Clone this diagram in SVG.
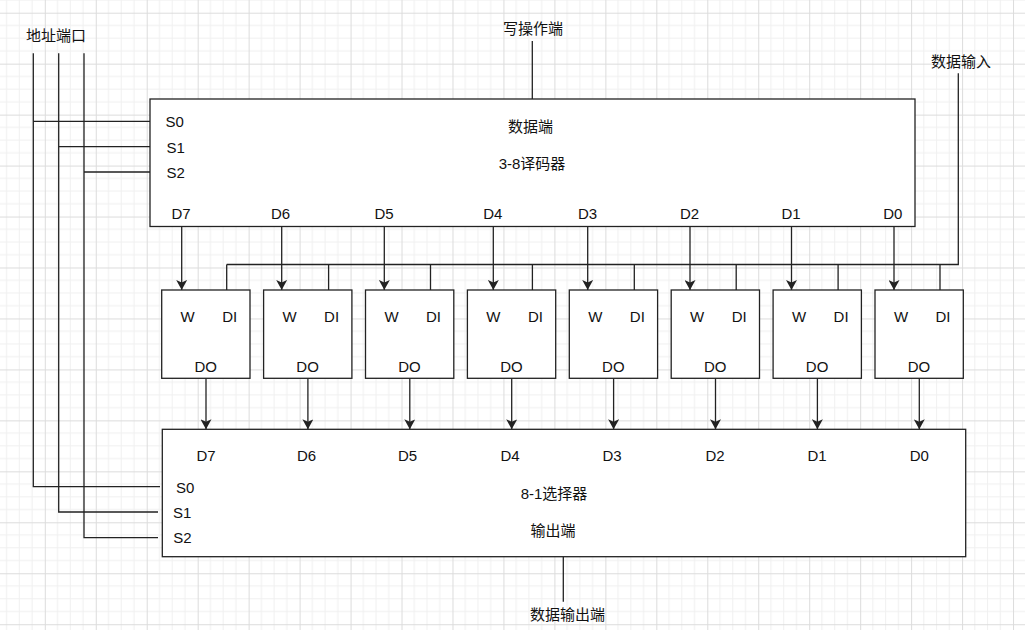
<svg xmlns="http://www.w3.org/2000/svg" width="1025" height="630" viewBox="0 0 1025 630">
<style>
.t{font-family:"Liberation Sans","Noto Sans CJK SC",sans-serif;font-size:15px;fill:#111}
.m{text-anchor:middle}
.box{fill:#fff;stroke:#222;stroke-width:1.3}
.ln{fill:none;stroke:#222;stroke-width:1.3}
.ar{fill:none;stroke:#222;stroke-width:1.3;marker-end:url(#arr)}
</style>
<defs>
<pattern id="grid" patternUnits="userSpaceOnUse" x="44.8" y="12.7" width="50.96" height="50.96">
<path d="M12.74,0V50.96M25.48,0V50.96M38.22,0V50.96M0,12.74H50.96M0,25.48H50.96M0,38.22H50.96" stroke="#f0f0f0" stroke-width="1" fill="none"/>
<path d="M0.5,0V50.96M0,0.5H50.96" stroke="#dcdcdc" stroke-width="1" fill="none"/>
</pattern>
<marker id="arr" markerUnits="userSpaceOnUse" viewBox="0 0 10 11" refX="10" refY="5.5" markerWidth="10" markerHeight="11" orient="auto">
<path d="M0,0 L10,5.5 L0,11 L2.5,5.5 z" fill="#222"/>
</marker>
</defs>
<rect width="1025" height="630" fill="#fff"/>
<rect width="1025" height="630" fill="url(#grid)"/>

<g id="connectors">
<path class="ln" d="M33.3,53.3V486.7H160M33.3,121.3H150"/>
<path class="ln" d="M58.7,53.3V512H158M58.7,146.7H151"/>
<path class="ln" d="M84,53.3V537.7H158M84,172H151"/>
<path class="ln" d="M532.3,41V99"/>
<path class="ln" d="M958.3,73.3V264.5H226.7"/>
<path class="ln" d="M226.7,264.5V290M328.6,264.5V290M430.5,264.5V290M532.4,264.5V290M634.3,264.5V290M736.2,264.5V290M838.1,264.5V290M940,264.5V290"/>
<path class="ar" d="M181.7,226.5V290"/>
<path class="ar" d="M281.7,226.5V290"/>
<path class="ar" d="M384.3,226.5V290"/>
<path class="ar" d="M493.3,226.5V290"/>
<path class="ar" d="M587.7,226.5V290"/>
<path class="ar" d="M690,226.5V290"/>
<path class="ar" d="M791.5,226.5V290"/>
<path class="ar" d="M894,226.5V290"/>
<path class="ar" d="M206,378.3V429.3"/>
<path class="ar" d="M307.9,378.3V429.3"/>
<path class="ar" d="M409.8,378.3V429.3"/>
<path class="ar" d="M511.7,378.3V429.3"/>
<path class="ar" d="M613.6,378.3V429.3"/>
<path class="ar" d="M715.5,378.3V429.3"/>
<path class="ar" d="M817.4,378.3V429.3"/>
<path class="ar" d="M919.3,378.3V429.3"/>
<path class="ln" d="M563.3,556.7V601.7"/>
</g>

<g id="label-addr"><text class="t m" x="56" y="40.5">地址端口</text></g>
<g id="label-write"><text class="t m" x="533" y="34">写操作端</text></g>
<g id="label-datain"><text class="t m" x="961" y="66.5">数据输入</text></g>
<g id="label-dataout"><text class="t m" x="567.5" y="620">数据输出端</text></g>

<g id="decoder">
<rect class="box" x="150" y="99" width="765" height="127.5"/>
<text class="t" x="165.5" y="126.7">S0</text>
<text class="t" x="166.5" y="152.5">S1</text>
<text class="t" x="166.5" y="177.7">S2</text>
<text class="t m" x="530.5" y="132">数据端</text>
<text class="t m" x="532" y="168.5">3-8译码器</text>
<text class="t m" x="181" y="219.3">D7</text>
<text class="t m" x="280.5" y="219.3">D6</text>
<text class="t m" x="384" y="219.3">D5</text>
<text class="t m" x="492.8" y="219.3">D4</text>
<text class="t m" x="587.5" y="219.3">D3</text>
<text class="t m" x="689.5" y="219.3">D2</text>
<text class="t m" x="791" y="219.3">D1</text>
<text class="t m" x="892.8" y="219.3">D0</text>
</g>

<g id="reg-7"><rect class="box" x="161.7" y="290" width="88.3" height="88.3"/><text class="t m" x="187.7" y="321.7">W</text><text class="t m" x="229.7" y="321.7">DI</text><text class="t m" x="205.7" y="371.7">DO</text></g>
<g id="reg-6"><rect class="box" x="263.6" y="290" width="88.3" height="88.3"/><text class="t m" x="289.6" y="321.7">W</text><text class="t m" x="331.6" y="321.7">DI</text><text class="t m" x="307.6" y="371.7">DO</text></g>
<g id="reg-5"><rect class="box" x="365.5" y="290" width="88.3" height="88.3"/><text class="t m" x="391.5" y="321.7">W</text><text class="t m" x="433.5" y="321.7">DI</text><text class="t m" x="409.5" y="371.7">DO</text></g>
<g id="reg-4"><rect class="box" x="467.4" y="290" width="88.3" height="88.3"/><text class="t m" x="493.4" y="321.7">W</text><text class="t m" x="535.4" y="321.7">DI</text><text class="t m" x="511.4" y="371.7">DO</text></g>
<g id="reg-3"><rect class="box" x="569.3" y="290" width="88.3" height="88.3"/><text class="t m" x="595.3" y="321.7">W</text><text class="t m" x="637.3" y="321.7">DI</text><text class="t m" x="613.3" y="371.7">DO</text></g>
<g id="reg-2"><rect class="box" x="671.2" y="290" width="88.3" height="88.3"/><text class="t m" x="697.2" y="321.7">W</text><text class="t m" x="739.2" y="321.7">DI</text><text class="t m" x="715.2" y="371.7">DO</text></g>
<g id="reg-1"><rect class="box" x="773.1" y="290" width="88.3" height="88.3"/><text class="t m" x="799.1" y="321.7">W</text><text class="t m" x="841.1" y="321.7">DI</text><text class="t m" x="817.1" y="371.7">DO</text></g>
<g id="reg-0"><rect class="box" x="875" y="290" width="88.3" height="88.3"/><text class="t m" x="901" y="321.7">W</text><text class="t m" x="943" y="321.7">DI</text><text class="t m" x="919" y="371.7">DO</text></g>

<g id="selector">
<rect class="box" x="162.3" y="429.3" width="803.4" height="127.4"/>
<text class="t m" x="206" y="460.5">D7</text>
<text class="t m" x="306.5" y="460.5">D6</text>
<text class="t m" x="407.5" y="460.5">D5</text>
<text class="t m" x="510" y="460.5">D4</text>
<text class="t m" x="612" y="460.5">D3</text>
<text class="t m" x="715" y="460.5">D2</text>
<text class="t m" x="817" y="460.5">D1</text>
<text class="t m" x="919.3" y="460.5">D0</text>
<text class="t" x="176" y="492.7">S0</text>
<text class="t" x="173" y="517.7">S1</text>
<text class="t" x="173.3" y="542.7">S2</text>
<text class="t m" x="554" y="499.3">8-1选择器</text>
<text class="t m" x="553" y="535.5">输出端</text>
</g>
</svg>
